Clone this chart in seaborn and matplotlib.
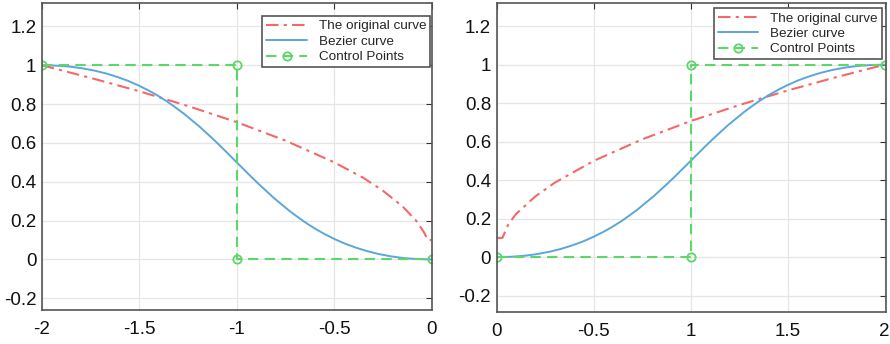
import matplotlib
matplotlib.use("Agg")
import matplotlib.pyplot as plt
import seaborn as sns

# ---- data ----
left_orig_x = [-2, -1.75, -1.5, -1.25, -1, -0.75, -0.5, -0.35, -0.25, -0.15, -0.08, -0.04, -0.02, 0]
left_orig_y = [1, 0.935, 0.866, 0.79, 0.707, 0.612, 0.5, 0.42, 0.354, 0.274, 0.2, 0.141, 0.1, 0.1]

left_bez_x = [-2, -1.928, -1.857, -1.791, -1.728, -1.668, -1.611, -1.556, -1.504, -1.454,
              -1.406, -1.360, -1.316, -1.273, -1.232, -1.191, -1.152, -1.113, -1.075,
              -1.037, -1.0, -0.963, -0.925, -0.887, -0.848, -0.809, -0.768, -0.727,
              -0.684, -0.640, -0.594, -0.546, -0.496, -0.444, -0.389, -0.332, -0.272,
              -0.209, -0.143, -0.073, 0]
left_bez_y = [1, 0.998, 0.993, 0.984, 0.972, 0.957, 0.939, 0.919, 0.896, 0.871,
              0.844, 0.815, 0.784, 0.752, 0.718, 0.684, 0.648, 0.612, 0.575,
              0.537, 0.5, 0.463, 0.425, 0.388, 0.352, 0.316, 0.282, 0.248,
              0.216, 0.185, 0.156, 0.129, 0.104, 0.081, 0.061, 0.043, 0.028,
              0.016, 0.007, 0.002, 0]

left_ctrl_x = [-2, -1, -1, 0]
left_ctrl_y = [1, 1, 0, 0]

right_orig_x = [0, 0.03, 0.06, 0.1, 0.2, 0.3, 0.5, 0.75, 1, 1.25, 1.5, 1.75, 2]
right_orig_y = [0.1, 0.1, 0.17, 0.224, 0.316, 0.387, 0.5, 0.612, 0.707, 0.79, 0.866, 0.935, 1]

right_bez_x = [0, 0.073, 0.143, 0.209, 0.272, 0.332, 0.389, 0.444, 0.496, 0.546,
               0.594, 0.640, 0.684, 0.727, 0.768, 0.809, 0.848, 0.887, 0.925,
               0.963, 1.0, 1.037, 1.075, 1.113, 1.152, 1.191, 1.232, 1.273,
               1.316, 1.360, 1.406, 1.454, 1.504, 1.556, 1.611, 1.668, 1.728,
               1.791, 1.857, 1.928, 2]
right_bez_y = [0, 0.002, 0.007, 0.016, 0.028, 0.043, 0.061, 0.081, 0.104, 0.129,
               0.156, 0.185, 0.216, 0.248, 0.282, 0.316, 0.352, 0.388, 0.425,
               0.463, 0.5, 0.537, 0.575, 0.612, 0.648, 0.684, 0.718, 0.752,
               0.784, 0.815, 0.844, 0.871, 0.896, 0.919, 0.939, 0.957, 0.972,
               0.984, 0.993, 0.998, 1]

right_ctrl_x = [0, 1, 1, 2]
right_ctrl_y = [0, 0, 1, 1]

left_xticks = [-2, -1.5, -1, -0.5, 0]
left_xticklabels = ["-2", "-1.5", "-1", "-0.5", "0"]
right_xticks = [0, 0.5, 1, 1.5, 2]
right_xticklabels = ["0", "-0.5", "1", "1.5", "2"]
yticks = [-0.2, 0, 0.2, 0.4, 0.6, 0.8, 1, 1.2]
yticklabels = ["-0.2", "0", "0.2", "0.4", "0.6", "0.8", "1", "1.2"]

labels = ["The original curve", "Bezier curve", "Control Points"]

RED = "#f4686a"
BLUE = "#5aa7d8"
GREEN = "#5dd66a"

sns.set_style("whitegrid")
plt.rcParams["font.family"] = ["Liberation Sans", "DejaVu Sans"]

fig = plt.figure(figsize=(8.9, 3.44), dpi=100)
ax1 = fig.add_axes([0.047, 0.099, 0.438, 0.892])
ax2 = fig.add_axes([0.558, 0.093, 0.437, 0.898])


def draw(ax, ox, oy, bx, by, cx, cy, xlim, ylim, xt, xtl, anchor):
    sns.lineplot(x=ox, y=oy, ax=ax, sort=False, estimator=None, color=RED,
                 linestyle=(0, (6, 2.5, 1.5, 2.5)), linewidth=1.5, label=labels[0])
    sns.lineplot(x=bx, y=by, ax=ax, sort=False, estimator=None, color=BLUE,
                 linewidth=1.4, label=labels[1])
    sns.lineplot(x=cx, y=cy, ax=ax, sort=False, estimator=None, color=GREEN,
                 linestyle=(0, (5, 3)), linewidth=1.5, marker="o", markersize=6,
                 markerfacecolor="none", markeredgecolor=GREEN, markeredgewidth=1.3,
                 label=labels[2])
    ax.set_xlim(*xlim)
    ax.set_ylim(*ylim)
    ax.set_xticks(xt)
    ax.set_xticklabels(xtl)
    ax.set_yticks(yticks)
    ax.set_yticklabels(yticklabels)
    ax.grid(True, color="#e6e6e6", linewidth=0.9)
    ax.tick_params(direction="in", length=4, width=0.8, color="#333333",
                   labelsize=13.5, top=True, right=True, labelcolor="#111111")
    ax.tick_params(axis="x", pad=8)
    ax.tick_params(axis="y", pad=4)
    for s in ax.spines.values():
        s.set_visible(True)
        s.set_color("#555555")
        s.set_linewidth(1.2)
    leg = ax.legend(loc="upper right", bbox_to_anchor=anchor, fontsize=9.7,
                    frameon=True, fancybox=False, handlelength=3.0, borderpad=0.3,
                    labelspacing=0.22, handletextpad=0.9, borderaxespad=0.0)
    leg.get_frame().set_edgecolor("#555555")
    leg.get_frame().set_linewidth(1.2)
    leg.get_frame().set_alpha(1)


draw(ax1, left_orig_x, left_orig_y, left_bez_x, left_bez_y, left_ctrl_x, left_ctrl_y,
     (-2, 0), (-0.26, 1.32), left_xticks, left_xticklabels, (0.997, 0.958))
draw(ax2, right_orig_x, right_orig_y, right_bez_x, right_bez_y, right_ctrl_x, right_ctrl_y,
     (0, 2.005), (-0.285, 1.32), right_xticks, right_xticklabels, (0.990, 0.984))

fig.savefig("out.png", dpi=100)
